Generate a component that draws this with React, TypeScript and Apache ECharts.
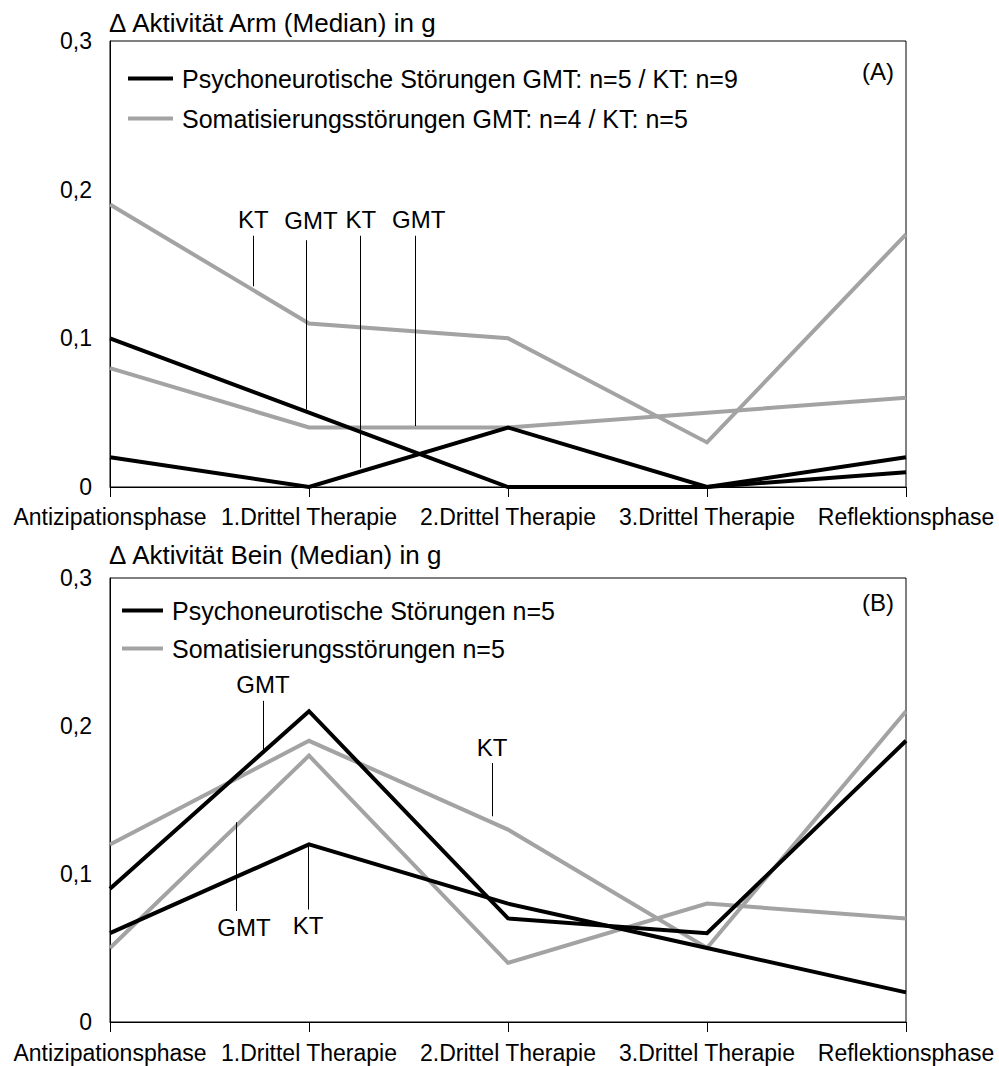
import React, { useEffect, useRef } from "react";
import * as echarts from "echarts";

// Phases of a session (x axis)
const phases = [
  "Antizipationsphase",
  "1.Drittel Therapie",
  "2.Drittel Therapie",
  "3.Drittel Therapie",
  "Reflektionsphase",
];

// Δ Aktivität Arm (Median) in g
const armPsychoGMT = [0.1, 0.05, 0, 0, 0.02];
const armPsychoKT = [0.02, 0, 0.04, 0, 0.01];
const armSomaGMT = [0.08, 0.04, 0.04, 0.05, 0.06];
const armSomaKT = [0.19, 0.11, 0.1, 0.03, 0.17];

// Δ Aktivität Bein (Median) in g
const beinPsychoGMT = [0.09, 0.21, 0.07, 0.06, 0.19];
const beinPsychoKT = [0.06, 0.12, 0.08, 0.05, 0.02];
const beinSomaGMT = [0.05, 0.18, 0.04, 0.08, 0.07];
const beinSomaKT = [0.12, 0.19, 0.13, 0.05, 0.21];

const armNames = [
  "Psychoneurotische Störungen GMT: n=5 / KT: n=9",
  "Somatisierungsstörungen GMT: n=4 / KT: n=5",
];
const beinNames = ["Psychoneurotische Störungen n=5", "Somatisierungsstörungen n=5"];

// Leader lines naming the groups: x in phase units, y range in g; label drawn at the "to" end
const armLeaders = [
  { text: "KT", x: 0.72, from: 0.135, to: 0.169 },
  { text: "GMT", x: 0.985, from: 0.052, to: 0.166, dx: 5, dy: -4 },
  { text: "KT", x: 1.256, from: 0.013, to: 0.169, dx: 1 },
  { text: "GMT", x: 1.536, from: 0.041, to: 0.169, dx: 3 },
];
const beinLeaders = [
  { text: "GMT", x: 0.769, from: 0.184, to: 0.217 },
  { text: "KT", x: 1.92, from: 0.139, to: 0.175 },
  { text: "GMT", x: 0.633, from: 0.135, to: 0.075, dx: 8 },
  { text: "KT", x: 0.995, from: 0.12, to: 0.076 },
];

const FONT = "Liberation Sans, Arial, sans-serif";
const BLACK = "#000000";
const GREY = "#a3a3a3";

const toPairs = (vals: number[]) => vals.map((v, i) => [i, v]);

export default function App() {
  const ref = useRef<HTMLDivElement>(null);

  useEffect(() => {
    if (!ref.current) return;
    const chart = echarts.init(ref.current, null, { renderer: "svg" });

    const grids = [
      { left: 110, top: 41, width: 796, height: 446 },
      { left: 110, top: 578, width: 796, height: 444 },
    ];

    const xAxis = grids.map((_, gi) => ({
      type: "value",
      gridIndex: gi,
      min: 0,
      max: 4,
      interval: 1,
      splitLine: { show: false },
      axisLine: { show: true, lineStyle: { color: BLACK, width: 1 } },
      axisTick: { show: true, inside: false, length: 10, lineStyle: { color: BLACK } },
      axisLabel: {
        color: BLACK,
        fontFamily: FONT,
        fontSize: 23,
        margin: gi === 0 ? 18 : 19,
        formatter: (v: number) => phases[Math.round(v)] ?? "",
      },
    }));

    const yAxis = grids.map((_, gi) => ({
      type: "value",
      gridIndex: gi,
      min: 0,
      max: 0.3,
      interval: 0.1,
      splitLine: { show: false },
      axisLine: { show: true, lineStyle: { color: BLACK, width: 1 } },
      axisTick: { show: false },
      axisLabel: {
        color: BLACK,
        fontFamily: FONT,
        fontSize: 23,
        margin: 18,
        formatter: (v: number) => (v === 0 ? "0" : v.toFixed(1).replace(".", ",")),
      },
    }));

    const lineSeries = (name: string, data: number[], color: string, gi: number) => ({
      type: "line",
      name,
      xAxisIndex: gi,
      yAxisIndex: gi,
      data: toPairs(data),
      symbol: "none",
      lineStyle: { color, width: 4, join: "miter" },
      itemStyle: { color },
      z: color === BLACK ? 3 : 2,
    });

    const leaderSeries = (leaders: any[], gi: number) => ({
      type: "line",
      name: "leaders-" + gi,
      xAxisIndex: gi,
      yAxisIndex: gi,
      data: [],
      symbol: "none",
      markLine: {
        silent: true,
        symbol: "none",
        lineStyle: { color: BLACK, width: 1, type: "solid" },
        data: leaders.map((l) => [
          { coord: [l.x, l.from] },
          {
            coord: [l.x, l.to],
            label: {
              show: true,
              position: "end",
              distance: 4,
              offset: [l.dx ?? 0, l.dy ?? 0],
              formatter: l.text,
              color: BLACK,
              fontFamily: FONT,
              fontSize: 24,
            },
          },
        ]),
      },
      z: 4,
    });

    const legendBase = {
      orient: "vertical",
      icon: "rect",
      itemHeight: 4,
      padding: 0,
      selectedMode: false,
      textStyle: {
        color: BLACK,
        fontFamily: FONT,
        fontSize: 25,
        lineHeight: 25,
        padding: [0, 0, 0, 4],
      },
    };

    chart.setOption({
      animation: false,
      backgroundColor: "#ffffff",
      title: [
        {
          text: "Δ Aktivität Arm (Median) in g",
          left: 104,
          top: 5,
          textStyle: { color: BLACK, fontFamily: FONT, fontSize: 26, fontWeight: "normal" },
        },
        {
          text: "Δ Aktivität Bein (Median) in g",
          left: 104,
          top: 537,
          textStyle: { color: BLACK, fontFamily: FONT, fontSize: 26, fontWeight: "normal" },
        },
      ],
      legend: [
        { ...legendBase, data: armNames, left: 128, top: 66, itemWidth: 45, itemGap: 15 },
        { ...legendBase, data: beinNames, left: 122, top: 598, itemWidth: 41, itemGap: 13 },
      ],
      grid: grids.map((g) => ({
        ...g,
        show: true,
        borderColor: BLACK,
        borderWidth: 1,
        backgroundColor: "transparent",
      })),
      xAxis,
      yAxis,
      graphic: [
        {
          type: "text",
          left: 862,
          top: 59,
          style: { text: "(A)", fill: BLACK, font: `24px ${FONT}` },
        },
        {
          type: "text",
          left: 862,
          top: 590,
          style: { text: "(B)", fill: BLACK, font: `24px ${FONT}` },
        },
      ],
      series: [
        lineSeries(armNames[1], armSomaKT, GREY, 0),
        lineSeries(armNames[1], armSomaGMT, GREY, 0),
        lineSeries(armNames[0], armPsychoGMT, BLACK, 0),
        lineSeries(armNames[0], armPsychoKT, BLACK, 0),
        leaderSeries(armLeaders, 0),
        lineSeries(beinNames[1], beinSomaKT, GREY, 1),
        lineSeries(beinNames[1], beinSomaGMT, GREY, 1),
        lineSeries(beinNames[0], beinPsychoGMT, BLACK, 1),
        lineSeries(beinNames[0], beinPsychoKT, BLACK, 1),
        leaderSeries(beinLeaders, 1),
      ],
    });

    return () => chart.dispose();
  }, []);

  return (
    <div
      ref={ref}
      style={{ position: "absolute", left: 0, top: 0, width: 999, height: 1066, background: "#fff" }}
    />
  );
}
